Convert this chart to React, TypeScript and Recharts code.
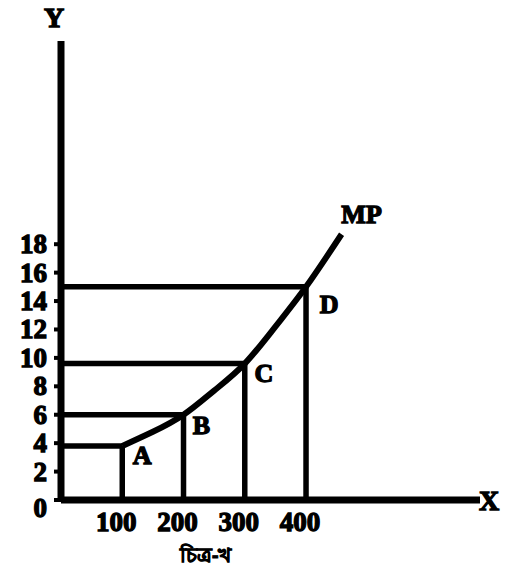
import React from 'react';
import { ComposedChart, Line, Scatter, XAxis, YAxis, ReferenceLine } from 'recharts';

// points A-D on the MP curve
const pointNames = ['A', 'B', 'C', 'D'];
const pointX = [100, 200, 300, 400];
const pointY = [3.8, 6, 9.6, 15];

// MP curve
const curveX = [100, 150, 200, 250, 300, 350, 400, 458];
const curveY = [3.8, 4.8, 6, 7.7, 9.6, 12.2, 15, 18.7];

const xTicks = [100, 200, 300, 400];
const yTicks = [0, 2, 4, 6, 8, 10, 12, 14, 16, 18];

const curveData = curveX.map((x, i) => ({ x, y: curveY[i] }));
const pointData = pointX.map((x, i) => ({ x, y: pointY[i], name: pointNames[i] }));
const mpData = [{ x: curveX[curveX.length - 1], y: curveY[curveY.length - 1], name: 'MP' }];

const font = '"Liberation Serif", "Times New Roman", serif';
const labelOffset: Record<string, [number, number]> = {
  A: [20, 18],
  B: [18, 19],
  C: [19, 18],
  D: [23, 26],
  MP: [20, -11],
};

const LetterShape = (props: any) => {
  const { cx, cy, payload } = props;
  const [dx, dy] = labelOffset[payload.name] || [0, 0];
  return (
    <text
      x={cx + dx}
      y={cy + dy}
      textAnchor="middle"
      fontFamily={font}
      fontWeight={700}
      fontSize={26}
      fill="#000"
      stroke="#000"
      strokeWidth={1.3}
    >
      {payload.name}
    </text>
  );
};

const YTick = (props: any) => {
  const { x, y, payload } = props;
  const shift = payload.value === 0 ? 17 : 9;
  return (
    <text x={x} y={y + shift} textAnchor="end" fontFamily={font} fontWeight={700} fontSize={27}
      fill="#000" stroke="#000" strokeWidth={1.3}>
      {payload.value}
    </text>
  );
};

const XTick = (props: any) => {
  const { x, y, payload } = props;
  return (
    <text x={x - 6} y={y + 31} textAnchor="middle" fontFamily={font} fontWeight={700} fontSize={27}
      fill="#000" stroke="#000" strokeWidth={1.3}>
      {payload.value}
    </text>
  );
};

const seg = (x1: number, y1: number, x2: number, y2: number) => [
  { x: x1, y: y1 },
  { x: x2, y: y2 },
];

export default function App() {
  return (
    <div style={{ position: 'absolute', left: 0, top: 0, width: 513, height: 580, background: '#fff' }}>
      <ComposedChart
        width={513}
        height={580}
        margin={{ top: 41, right: 33, bottom: 79, left: 60 }}
      >
        <XAxis
          type="number"
          dataKey="x"
          domain={[0, 684]}
          ticks={xTicks}
          tick={<XTick />}
          tickLine={false}
          tickSize={0}
          tickMargin={0}
          height={1}
          axisLine={{ stroke: '#000', strokeWidth: 7 }}
          allowDataOverflow
        />
        <YAxis
          type="number"
          dataKey="y"
          domain={[0, 32.3]}
          ticks={yTicks}
          tick={<YTick />}
          tickLine={{ stroke: '#000', strokeWidth: 4 }}
          tickSize={7}
          tickMargin={7}
          width={1}
          axisLine={{ stroke: '#000', strokeWidth: 7 }}
          allowDataOverflow
        />
        {pointData.map((p) => (
          <ReferenceLine key={'h' + p.name} segment={seg(0, p.y, p.x, p.y)} stroke="#000" strokeWidth={5.5} />
        ))}
        {pointData.map((p) => (
          <ReferenceLine key={'v' + p.name} segment={seg(p.x, 0, p.x, p.y)} stroke="#000" strokeWidth={5.5} />
        ))}
        <Line
          data={curveData}
          dataKey="y"
          type="natural"
          stroke="#000"
          strokeWidth={6}
          dot={false}
          isAnimationActive={false}
        />
        <Scatter data={pointData} dataKey="y" shape={<LetterShape />} isAnimationActive={false} />
        <Scatter data={mpData} dataKey="y" shape={<LetterShape />} isAnimationActive={false} />
      </ComposedChart>
      <div style={{ position: 'absolute', left: 44, top: 2, fontFamily: font, fontWeight: 700, fontSize: 28, WebkitTextStroke: '1.3px #000' }}>Y</div>
      <div style={{ position: 'absolute', left: 479, top: 485, fontFamily: font, fontWeight: 700, fontSize: 28, WebkitTextStroke: '1.3px #000' }}>X</div>
      <div style={{ position: 'absolute', left: 180, top: 540, fontFamily: '"Noto Sans", sans-serif', fontWeight: 700, fontSize: 20, WebkitTextStroke: '0.8px #000' }}>চিত্র-খ</div>
    </div>
  );
}
